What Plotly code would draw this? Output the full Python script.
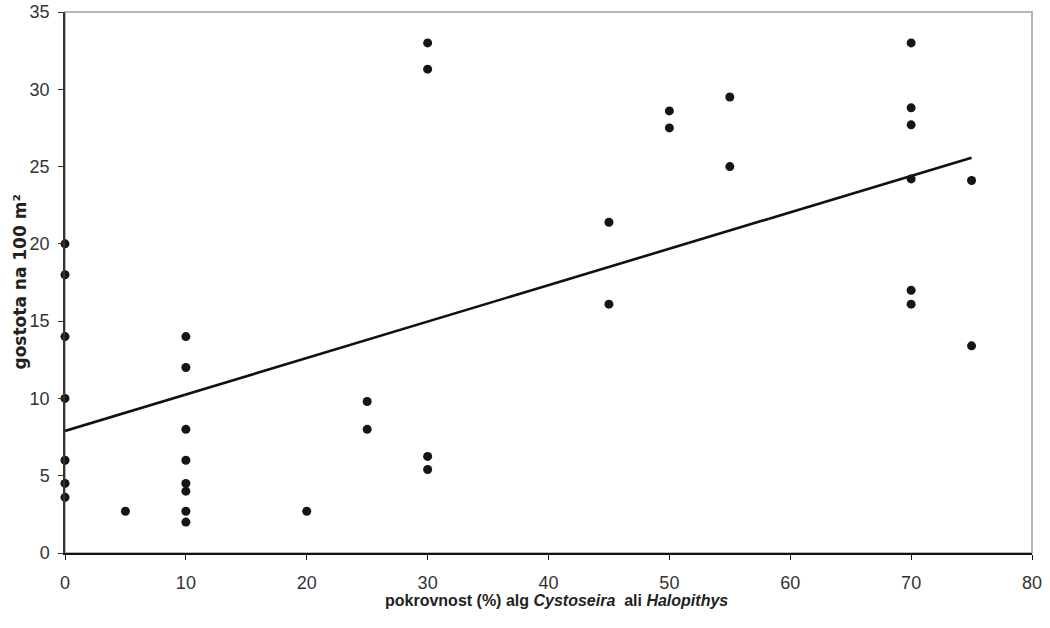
import plotly.graph_objects as go

# Data
cover_pct = [0, 0, 0, 0, 0, 0, 0,
             5,
             10, 10, 10, 10, 10, 10, 10, 10,
             20,
             25, 25,
             30, 30, 30, 30,
             45, 45,
             50, 50,
             55, 55,
             70, 70, 70, 70, 70, 70,
             75, 75]
density = [20, 18, 14, 10, 6, 4.5, 3.6,
           2.7,
           14, 12, 8, 6, 4.5, 4.0, 2.7, 2.0,
           2.7,
           9.8, 8.0,
           33.0, 31.3, 6.25, 5.4,
           21.4, 16.1,
           28.6, 27.5,
           29.5, 25.0,
           33.0, 28.8, 27.7, 24.2, 17.0, 16.1,
           24.1, 13.4]

# Linear trend line
trend_intercept = 7.9
trend_slope = 0.2357

x_ticks = [0, 10, 20, 30, 40, 50, 60, 70, 80]
y_ticks = [0, 5, 10, 15, 20, 25, 30, 35]

x_title = "<b>pokrovnost (%) alg <i>Cystoseira</i>  ali <i>Halopithys</i></b>"
y_title = "<b>gostota na 100 m²</b>"

trend_x = [min(cover_pct), max(cover_pct)]
trend_y = [trend_intercept + trend_slope * v for v in trend_x]

NARROW = "Liberation Sans Narrow, Arial Narrow, Liberation Sans, Arial, sans-serif"
WIDE = "DejaVu Sans, Verdana, sans-serif"

W, H = 1050, 628
ML, MR, MT, MB = 65, 18, 12, 75

fig = go.Figure()
fig.add_trace(go.Scatter(
    x=trend_x, y=trend_y, mode="lines",
    line=dict(color="#111111", width=2.6),
    hoverinfo="skip", showlegend=False,
))
fig.add_trace(go.Scatter(
    x=cover_pct, y=density, mode="markers",
    marker=dict(color="#151515", size=9, line=dict(width=0)),
    cliponaxis=False, showlegend=False,
))

# grey frame (top/right)
fig.add_shape(type="rect", xref="paper", yref="paper", x0=0, y0=0, x1=1, y1=1,
              line=dict(color="#a0a0a0", width=1.5), layer="below")

# axis titles as annotations for exact placement
fig.add_annotation(text=x_title, xref="paper", yref="paper", x=0.5, y=0,
                   xanchor="center", yanchor="middle", yshift=-47, xshift=8,
                   showarrow=False,
                   font=dict(family=NARROW, size=16, color="#222222"))
fig.add_annotation(text=y_title, xref="paper", yref="paper", x=0, y=0.5,
                   xanchor="center", yanchor="middle", xshift=-46, textangle=-90,
                   showarrow=False,
                   font=dict(family=WIDE, size=17, color="#222222"))

fig.update_layout(
    width=W, height=H,
    margin=dict(l=ML, r=MR, t=MT, b=MB, autoexpand=False),
    paper_bgcolor="white", plot_bgcolor="white",
    font=dict(family=NARROW, color="#333333", size=18),
    showlegend=False,
)
fig.update_xaxes(
    range=[0, 80], tickvals=x_ticks, ticktext=[str(v) for v in x_ticks],
    showgrid=False, zeroline=False, automargin=False,
    showline=True, linecolor="#111111", linewidth=1.5,
    ticks="outside", ticklen=5, tickcolor="#111111", tickwidth=1,
    tickfont=dict(family=NARROW, size=18, color="#333333"),
    ticklabelstandoff=8, ticklabeloverflow="allow",
)
fig.update_yaxes(
    range=[0, 35], tickvals=y_ticks, ticktext=[str(v) for v in y_ticks],
    showgrid=False, zeroline=False, automargin=False,
    showline=True, linecolor="#333333", linewidth=1.5,
    ticks="outside", ticklen=5, tickcolor="#333333", tickwidth=1,
    tickfont=dict(family=NARROW, size=18, color="#333333"),
    ticklabelstandoff=5, ticklabeloverflow="allow",
)

# remove the browser's default 8px body margin so the figure sits at the window origin
fig.write_html("out.html",
               config={"displayModeBar": False},
               post_script="document.body.style.margin='0';document.body.style.overflow='hidden';")
